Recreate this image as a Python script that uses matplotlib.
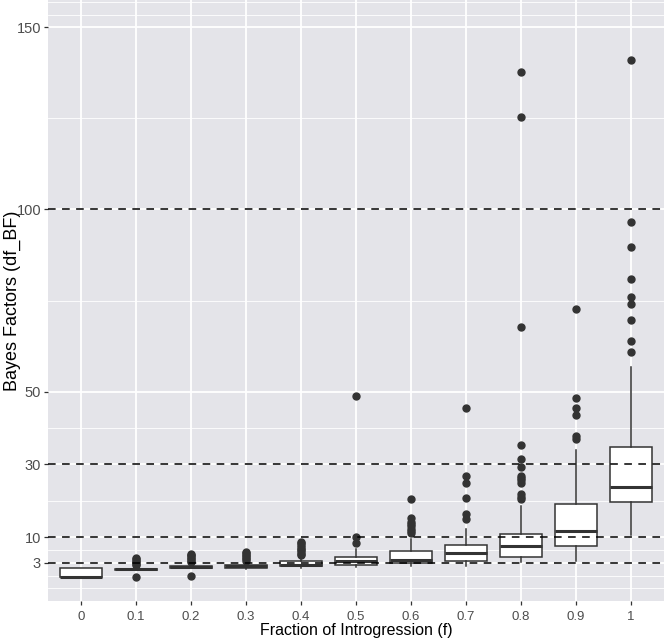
import matplotlib
matplotlib.use('Agg')
import matplotlib.pyplot as plt
import numpy as np

# categories (fraction of introgression)
cats = ['0', '0.1', '0.2', '0.3', '0.4', '0.5', '0.6', '0.7', '0.8', '0.9', '1']

# box statistics
whislo = [-1.0, 0.9, 1.5, 1.4, 1.6, 1.8, 2.0, 2.2, 3.3, 3.4, 10.7]
q1 = [-1.0, 0.9, 1.5, 1.6, 2.0, 2.4, 2.8, 3.5, 4.6, 7.5, 19.8]
med = [-1.0, 1.15, 1.75, 2.0, 2.4, 3.4, 3.8, 5.6, 7.5, 11.8, 23.8]
q3 = [1.45, 1.4, 2.0, 2.4, 3.4, 4.5, 6.3, 7.9, 10.9, 19.1, 34.8]
whishi = [1.45, 2.2, 2.8, 3.4, 4.8, 6.7, 9.5, 12.2, 18.6, 33.9, 56.8]

# outliers
fliers = [
    [],
    [-0.85, 2.4, 2.7, 3.1, 3.5, 3.9, 4.2],
    [-0.75, 3.2, 3.6, 4.0, 4.4, 4.8, 5.1, 5.4],
    [3.6, 4.0, 4.4, 4.8, 5.2, 5.6, 6.0],
    [5.0, 5.4, 5.9, 6.4, 6.9, 7.4, 7.9, 8.3, 8.6],
    [8.3, 10.2, 48.7],
    [11.3, 11.8, 12.4, 13.0, 13.6, 14.3, 15.4, 20.5],
    [15.0, 16.3, 20.7, 24.8, 26.8, 45.6],
    [20.4, 21.0, 21.8, 25.0, 25.6, 26.2, 26.8, 29.4, 31.4, 35.2, 67.6, 125.4, 137.7],
    [37.1, 37.8, 43.5, 45.6, 48.3, 72.8],
    [60.9, 63.8, 69.6, 74.0, 76.0, 81.0, 89.7, 96.6, 141.1],
]

yticks = [3, 10, 30, 50, 100, 150]
ref_lines = [3, 10, 30, 100]
minor_y = [-4, -0.5, 6.5, 20, 40, 75, 125, 153.5, 157]

plt.rcParams['font.family'] = ['Liberation Sans', 'DejaVu Sans']

fig = plt.figure(figsize=(6.65, 6.39), dpi=100)
ax = fig.add_axes([48 / 665, 38 / 639, 616 / 665, 601 / 639])
ax.set_facecolor('#e4e4e9')
for s in ax.spines.values():
    s.set_visible(False)

pos = np.arange(1, len(cats) + 1)

# grid
for y in minor_y:
    ax.axhline(y, color='white', lw=0.6, zorder=0.5)
for y in yticks:
    ax.axhline(y, color='white', lw=1.3, zorder=0.6)
for x in pos:
    ax.axvline(x, color='white', lw=1.3, zorder=0.6)

stats = []
for i in range(len(cats)):
    stats.append(dict(whislo=whislo[i], q1=q1[i], med=med[i], q3=q3[i],
                      whishi=whishi[i], fliers=fliers[i], label=cats[i]))

ax.bxp(stats, positions=pos, widths=0.75, patch_artist=True, showcaps=False,
       boxprops=dict(facecolor='white', edgecolor='#333333', linewidth=1.1),
       medianprops=dict(color='#333333', linewidth=2.2, solid_capstyle='butt'),
       whiskerprops=dict(color='#333333', linewidth=1.1),
       flierprops=dict(marker='o', markerfacecolor='#333333', markeredgecolor='#333333',
                       markersize=5, linestyle='none'),
       zorder=2)

# reference lines
for y in ref_lines:
    ax.axhline(y, color='black', lw=1.1, linestyle=(0, (5, 4.2)), zorder=3)

ax.set_xlim(0.4, len(cats) + 0.6)
ax.set_ylim(-7.5, 157.5)
ax.set_yticks(yticks)
ax.set_yticklabels([str(t) for t in yticks])
ax.set_xticks(pos)
ax.set_xticklabels(cats)
ax.tick_params(axis='both', colors='#333333', labelcolor='#4d4d4d',
               length=3, width=0.9)
ax.tick_params(axis='x', labelsize=9.5, pad=4)
ax.tick_params(axis='y', labelsize=10.5, pad=2)
ax.set_xlabel('Fraction of Introgression (f)', fontsize=11.5, color='black', va='center')
ax.set_ylabel('Bayes Factors (df_BF)', fontsize=13, color='black', va='center')
ax.xaxis.set_label_coords(0.5, -30 / 601)
ax.yaxis.set_label_coords(-36 / 616, 0.5)

fig.savefig('out.png', dpi=100, facecolor='white')
